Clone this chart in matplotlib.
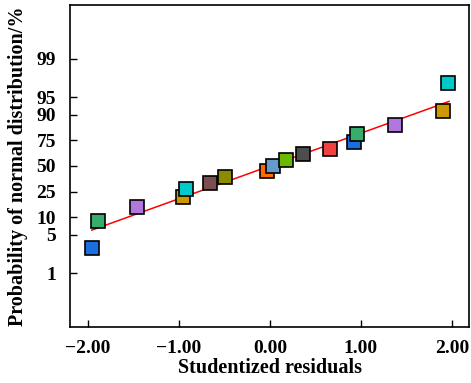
import numpy as np
import matplotlib
matplotlib.use('Agg')
import matplotlib.pyplot as plt

# studentized residuals and normal probability (%)
residuals = [-1.96, -1.89, -1.46, -0.96, -0.92, -0.66, -0.49, -0.03, 0.03,
             0.18, 0.36, 0.66, 0.92, 0.96, 1.38, 1.90, 1.96]
probability = [2.9, 8.8, 14.9, 20.8, 26.8, 32.6, 38.5, 44.3, 50.4,
               56.3, 62.2, 67.9, 73.6, 79.6, 85.4, 91.3, 97.2]
colors = ['#1a6fdf', '#37ad6b', '#b177de', '#cc9900', '#00c9c9', '#7b4f4f',
          '#8b8b00', '#ff6b00', '#6699cc', '#6bb800', '#4d4d4d', '#f14040',
          '#1a6fdf', '#37ad6b', '#b177de', '#cc9900', '#00c9c9']

# fitted reference line (end points)
line_x = [-1.96, 1.97]
line_p = [6.0, 94.1]

yticks = [1, 5, 10, 25, 50, 75, 90, 95, 99]
xticks = [-2, -1, 0, 1, 2]

plt.rcParams['font.family'] = ['Liberation Serif', 'DejaVu Serif']
plt.rcParams['font.weight'] = 'bold'

fig = plt.figure(figsize=(4.71, 3.83), dpi=100)
ax = fig.add_axes([0.1486, 0.1462, 0.8472, 0.8408])

ax.plot(line_x, np.array(line_p) / 100, color='red', lw=1.1, zorder=2)
for x, p, c in zip(residuals, probability, colors):
    ax.plot(x, p / 100, marker='s', ms=9.5, mfc=c, mec='black', mew=1.2,
            ls='none', zorder=3)

ax.set_yscale('logit')
ax.set_ylim(0.001, 0.999)
ax.set_xlim(-2.2, 2.19)
ax.set_yticks([t / 100 for t in yticks])
ax.set_yticklabels([str(t) for t in yticks])
ax.yaxis.set_minor_locator(matplotlib.ticker.NullLocator())
ax.set_xticks(xticks)
ax.set_xticklabels(['\u22122.00', '\u22121.00', '0.00', '1.00', '2.00'])

ax.tick_params(direction='in', length=5, width=1, labelsize=14)
ax.tick_params(axis='x', pad=9)
ax.tick_params(axis='y', pad=10)
for s in ax.spines.values():
    s.set_linewidth(1.2)

ax.set_xlabel('Studentized residuals', fontsize=14.5, fontweight='bold', labelpad=1)
ax.set_ylabel('Probability of normal distribution/%', fontsize=14.5,
              fontweight='bold', labelpad=6)

fig.savefig('out.png', dpi=100)
